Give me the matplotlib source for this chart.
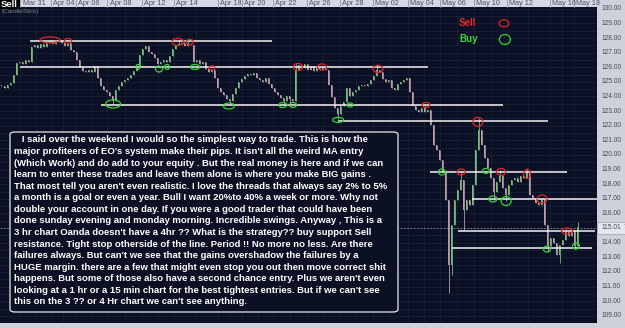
import matplotlib
matplotlib.use("Agg")
import matplotlib.pyplot as plt
from matplotlib.patches import Ellipse, FancyBboxPatch, Rectangle

# ---------------- data ----------------
closes = [
    124.72, 124.58, 124.79, 124.93, 125.47, 126.29, 126.36, 126.22, 126.50, 126.36, 127.39,
    127.52, 127.32, 127.59, 127.39, 127.66, 127.80, 127.59, 127.73, 127.87, 127.66,
    127.46, 127.66, 127.18, 127.04, 126.50, 126.02, 125.75, 125.68, 125.81, 125.68,
    126.09, 125.27, 124.72, 124.45, 124.31, 124.03, 123.69, 124.45, 124.72, 124.99,
    125.13, 125.27, 125.47, 125.75, 126.02, 126.84, 127.25, 127.46, 127.04, 126.91,
    126.63, 126.22, 126.36, 126.50, 126.36, 126.77, 127.25, 127.52, 127.59, 127.66,
    127.46, 127.59, 127.52, 126.36, 126.50, 126.22, 126.36, 125.88, 125.68, 125.81,
    125.27, 124.58, 124.31, 124.10, 123.83, 123.69, 124.17, 124.58, 124.99, 125.20,
    125.40, 125.54, 125.47, 125.61, 125.27, 125.13, 124.99, 125.27, 124.86, 124.58,
    124.31, 124.10, 123.90, 123.69, 124.03, 123.83, 123.69, 125.81, 126.16, 125.95,
    126.22, 125.81, 126.09, 125.75, 125.95, 125.81, 126.02, 125.81, 124.79, 123.97,
    123.21, 122.80, 123.35, 123.62, 124.58, 124.03, 124.31, 124.45, 124.72, 124.79,
    124.72, 124.86, 125.13, 125.40, 125.81, 125.68, 125.20, 124.99, 125.13, 124.58,
    124.45, 124.86, 124.99, 125.13, 125.27, 124.31, 123.35, 123.08, 122.94, 123.21,
    122.94, 123.08, 122.06, 120.69, 120.35, 119.66, 118.84,
    116.92, 112.47, 115.21, 116.92, 117.60, 118.29, 116.24, 116.92, 116.58, 117.95,
    120.35, 121.72, 120.69, 119.80, 119.11, 118.43, 117.47, 118.15, 118.63, 117.74,
    117.26, 117.95, 118.29, 118.43, 118.15, 118.56, 118.43, 118.84, 117.26, 117.06,
    116.71, 116.58, 116.92, 115.21, 113.77, 114.32, 113.97, 113.16, 113.84, 114.18,
    114.73, 114.45, 114.86, 113.77, 115.07,
]
# long wicks (bar index, price)
high_idx = [16, 19, 59, 62, 98, 107, 125, 141, 153, 159, 166, 175, 180, 188, 192]
high_val = [127.87, 127.94, 127.80, 127.80, 126.20, 126.09, 126.09, 123.42, 118.84,
            122.53, 118.97, 119.11, 117.06, 114.95, 115.41]
low_idx = [37, 76, 94, 96, 112, 149, 150, 154, 164, 168, 182, 186, 191]
low_val = [123.49, 123.45, 123.45, 123.45, 122.46, 110.56, 111.79, 114.86, 116.92,
           116.85, 113.36, 112.61, 113.60]

# support / resistance lines: price, start bar, end bar
level_price = [127.80, 126.02, 123.45, 122.33, 118.84, 116.99, 114.80, 113.64]
level_start = [9.5, 6.2, 33.2, 112.2, 142.8, 156.8, 152.2, 150.2]
level_end = [90.2, 142.2, 167.2, 182.2, 188.5, 198.5, 197.8, 196.8]

sell_x = [16.2, 22.2, 58.8, 62.8, 70.2, 98.8, 106.8, 125.5, 141.5, 158.8, 153.2, 166.5, 175.2, 180.2, 188.5]
sell_y = [127.87, 127.80, 127.73, 127.73, 125.95, 126.02, 126.02, 125.88, 123.42, 122.26, 118.84, 118.84, 118.70, 116.99, 114.80]
buy_x = [37.2, 45.5, 52.5, 55.2, 64.5, 75.8, 93.8, 97.2, 116.2, 112.2, 146.8, 161.5, 163.8, 168.2, 181.8, 191.5]
buy_y = [123.49, 126.02, 125.88, 126.02, 126.02, 123.35, 123.42, 123.42, 123.42, 122.40, 118.84, 118.91, 116.99, 116.85, 113.57, 113.77]

date_labels = ["Mar 31", "Apr 04", "Apr 06", "Apr 08", "Apr 12", "Apr 14", "Apr 18", "Apr 20",
               "Apr 22", "Apr 26", "Apr 28", "May 02", "May 04", "May 06", "May 10", "May 12",
               "May 16", "May 18"]
date_pos = [6.3, 16.5, 24.8, 35.2, 46.8, 57.5, 72.2, 80.2, 90.5, 101.8, 112.8, 123.8,
            135.5, 146.2, 157.5, 168.5, 182.8, 190.8]
price_ticks = list(range(109, 131))
last_price = 115.017

note_lines = [
    "   I said over the weekend I would so the simplest way to trade. This is how the",
    "major profiteers of EO's system make their pips. It isn't all the weird MA entry",
    "(Which Work) and do add to your equity . But the real money is here and if we can",
    "learn to enter these trades and leave them alone is where you make BIG gains .",
    "That most tell you aren't even realistic. I love the threads that always say 2% to 5%",
    "a month is a goal or even a year. Bull I want 20%to 40% a week or more. Why not",
    "double your account in one day. If you were a good trader that could have been",
    "done sunday evening and monday morning. Incredible swings. Anyway , This is a",
    "3 hr chart Oanda doesn't have a 4hr ?? What is the strategy?? buy support Sell",
    "resistance. Tight stop otherside of the line. Period !! No more no less. Are there",
    "failures always. But can't we see that the gains overshadow the failures by a",
    "HUGE margin. there are a few that might even stop you out then move correct shit",
    "happens. But some of those also have a second chance entry. Plus we aren't even",
    "looking at a 1 hr or a 15 min chart for the best tightest entries. But if we can't see",
    "this on the 3 ?? or 4 Hr chart we can't see anything.",
]

# ---------------- figure ----------------
W, H = 625, 328
BG = "#0b1024"
GRID = "#172039"
STRIP = "#cdd1da"
FONT = "Liberation Sans"

fig = plt.figure(figsize=(W / 100, H / 100), dpi=100, facecolor=STRIP)
ax = fig.add_axes([0, 5 / H, 597 / W, 316 / H])
ax.set_facecolor(BG)
ax.set_xlim(-0.5, 198.5)
ax.set_ylim(108.51, 130.12)
for s in ax.spines.values():
    s.set_visible(False)
ax.set_xticks([])
ax.set_yticks([])

# grid
for k in range(217, 261):
    ax.axhline(k / 2, color=GRID, lw=0.6, zorder=0)
grid_x = sorted(date_pos + [(a + b) / 2 for a, b in zip(date_pos[:-1], date_pos[1:])])
for gx in grid_x:
    ax.axvline(gx, color=GRID, lw=0.6, zorder=0)

# candles
opens = [closes[0]] + closes[:-1]
highs = [max(o, c) for o, c in zip(opens, closes)]
lows = [min(o, c) for o, c in zip(opens, closes)]
for i, v in zip(high_idx, high_val):
    highs[i] = max(highs[i], v)
for i, v in zip(low_idx, low_val):
    lows[i] = min(lows[i], v)
UP, DN = "#7db87d", "#b89ca8"
for i, (o, c, h, l) in enumerate(zip(opens, closes, highs, lows)):
    col = UP if c >= o else DN
    ax.vlines(i, l, h, color=col, lw=0.6, zorder=2)
    bot = min(o, c)
    ht = max(abs(c - o), 0.05)
    ax.bar(i, ht, bottom=bot, width=0.4, color=col, linewidth=0, zorder=3)

# dashed last-price line
ax.axhline(last_price, color="#8a93a8", lw=0.6, ls=(0, (2, 2)), zorder=1)

# levels
for p, a, b in zip(level_price, level_start, level_end):
    ax.plot([a, b], [p, p], color="#f2f2f2", lw=1.1, zorder=4, solid_capstyle="butt")

# circles (sizes in pixels converted to data units)
def px_w(px):
    return px / 3.0

def px_h(px):
    return px / 14.62

RED, GREEN = "#e0262a", "#33d633"
sell_w = [20, 7, 12, 7, 6, 9, 9, 10, 8, 10, 8, 9, 7, 10, 11]
sell_h = [6, 5, 7, 5, 4, 7, 6, 7, 5, 9, 6, 7, 9, 8, 6]
buy_w = [15, 4, 7, 5, 9, 11, 8, 7, 6, 11, 7, 7, 8, 10, 7, 7]
buy_h = [8, 5, 6, 5, 5, 6, 5, 5, 4, 5, 6, 5, 6, 9, 6, 6]
for x, y, w, h in zip(sell_x, sell_y, sell_w, sell_h):
    ax.add_patch(Ellipse((x, y), px_w(w), px_h(h), fill=False, ec=RED, lw=0.9, zorder=5))
for x, y, w, h in zip(buy_x, buy_y, buy_w, buy_h):
    ax.add_patch(Ellipse((x, y), px_w(w), px_h(h), fill=False, ec=GREEN, lw=0.9, zorder=5))

# legend
ax.text(152.5, 129.0, "Sell", color="#e8262a", fontsize=7, fontweight="bold", family=FONT,
        va="center", ha="left", zorder=6)
ax.text(152.5, 127.95, "Buy", color="#3ad83a", fontsize=7, fontweight="bold", family=FONT,
        va="center", ha="left", zorder=6)
ax.add_patch(Ellipse((167.5, 129.0), px_w(10), px_h(7), fill=False, ec=RED, lw=0.9, zorder=6))
ax.add_patch(Ellipse((167.8, 127.9), px_w(11), px_h(10), fill=False, ec=GREEN, lw=0.9, zorder=6))

# text box
box = FancyBboxPatch((10 / W, 16 / H), 388 / W, 180 / H, boxstyle="round,pad=0,rounding_size=0.008",
                     transform=fig.transFigure, fc=BG, ec="#e8e8e8", lw=0.9, zorder=7)
ax.add_patch(box)
for k, line in enumerate(note_lines):
    ypx = 140 + k * 11.57
    fig.text(14 / W, 1 - ypx / H, line, color="white", fontsize=6.8, fontweight="bold",
             family=FONT, va="center", ha="left", zorder=8)

# right price axis
ytr = ax.get_yaxis_transform()
for p in price_ticks:
    ax.text(1.007, p, f"{p:.2f}", transform=ytr, fontsize=4.8, family=FONT, color="#434a5c",
            va="center", ha="left", clip_on=False)
ax.add_patch(Rectangle((1.0, last_price - 0.42), 28 / 597, 0.84, transform=ytr, fc="#e4e7ee",
                       ec="#9aa0b0", lw=0.5, clip_on=False, zorder=6))
ax.text(1.007, last_price, "115.01", transform=ytr, fontsize=4.8, family=FONT, color="#434a5c",
        va="center", ha="left", clip_on=False, zorder=7)
ax.text(1.044, last_price + 0.12, "7", transform=ytr, fontsize=3.4, family=FONT, color="#434a5c",
        va="center", ha="left", clip_on=False, zorder=7)

# top date strip
fig.add_artist(Rectangle((0, 321 / H), 597 / W, 7 / H, transform=fig.transFigure, fc="#d4d8e2",
                         ec="none", zorder=-1))
xtr = ax.get_xaxis_transform()
for lab, pos in zip(date_labels, date_pos):
    ax.plot([pos, pos], [1.0, 1.03], transform=xtr, color="#8f96a8", lw=0.6, clip_on=False, zorder=2)
    ax.text(pos + 0.8, 1.012, lab, transform=xtr, fontsize=5.2, family=FONT, color="#4a5264",
            va="center", ha="left", clip_on=False, zorder=3)

# top-left chart label
fig.add_artist(Rectangle((0, 319 / H), 20 / W, 9 / H, transform=fig.transFigure, fc="black",
                         ec="none", zorder=5))
fig.text(1.0 / W, 1 - 4.5 / H, "Sell", color="white", fontsize=6.8, fontweight="bold", family=FONT,
         va="center", ha="left", zorder=6)
fig.text(2 / W, 1 - 11.5 / H, "(CandleStick)", color="#7d8598", fontsize=4.5, family=FONT,
         va="center", ha="left", zorder=6)

fig.savefig("out.png", dpi=100, facecolor=STRIP)
